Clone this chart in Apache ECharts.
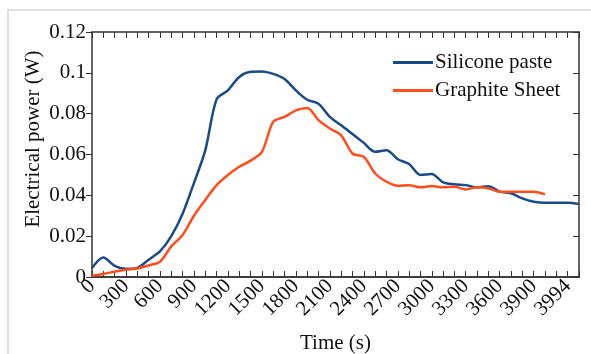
<!DOCTYPE html>
<html>
<head>
<meta charset="utf-8">
<script src="https://cdn.jsdelivr.net/npm/echarts@6/dist/echarts.min.js"></script>
<style>
  html, body { margin: 0; padding: 0; background: #fff; }
  #chart { width: 591px; height: 354px; }
</style>
</head>
<body>
<div id="chart"></div>
<script>
  // x categories (s); only every third one gets a label
  const timeLabels = [
    '0', '100', '200', '300', '400', '500', '600', '700', '800', '900',
    '1000', '1100', '1200', '1300', '1400', '1500', '1600', '1700', '1800', '1900',
    '2000', '2100', '2200', '2300', '2400', '2500', '2600', '2700', '2800', '2900',
    '3000', '3100', '3200', '3300', '3400', '3500', '3600', '3700', '3800', '3900',
    '3931', '3962', '3994', '4025'
  ];
  const yTicks = [0, 0.02, 0.04, 0.06, 0.08, 0.1, 0.12];

  const siliconePaste = [
    0.0044, 0.0095, 0.0055, 0.0040, 0.0045, 0.0085, 0.0125, 0.0200, 0.0310, 0.0460,
    0.0620, 0.0870, 0.0914, 0.0980, 0.1005, 0.1007, 0.0995, 0.0970, 0.0914, 0.0868,
    0.0849, 0.0784, 0.0743, 0.0700, 0.0657, 0.0613, 0.0621, 0.0577, 0.0553, 0.0500,
    0.0504, 0.0463, 0.0454, 0.0450, 0.0439, 0.0445, 0.0418, 0.0410, 0.0385, 0.0369,
    0.0364, 0.0364, 0.0364, 0.0358
  ];
  const graphiteSheet = [
    0.0007, 0.0015, 0.0026, 0.0036, 0.0042, 0.0057, 0.0075, 0.0150, 0.0206, 0.0300,
    0.0377, 0.0450, 0.0500, 0.0540, 0.0570, 0.0613, 0.0760, 0.0784, 0.0816, 0.0828,
    0.0768, 0.0727, 0.0694, 0.0605, 0.0589, 0.0507, 0.0467, 0.0447, 0.0450, 0.0439,
    0.0446, 0.0439, 0.0442, 0.0429, 0.0439, 0.0434, 0.0418, 0.0418, 0.0418, 0.0418,
    0.0405
  ];

  const font = 'Liberation Serif';
  const axisColor = '#333';
  const txt = '#111';

  function axisLine() {
    return { show: true, onZero: false, lineStyle: { color: axisColor, width: 1.5 } };
  }
  // plain category axis used only for the inward tick marks
  function tickAxis(position) {
    return {
      type: 'category',
      data: timeLabels,
      boundaryGap: false,
      position: position,
      axisLine: axisLine(),
      axisTick: { show: true, inside: true, interval: 0, length: 6, lineStyle: { color: axisColor } },
      axisLabel: { show: false },
      splitLine: { show: false }
    };
  }

  const chart = echarts.init(document.getElementById('chart'));
  chart.setOption({
    animation: false,
    textStyle: { fontFamily: font, color: txt },
    graphic: [{
      type: 'rect',
      shape: { x: 8, y: 10, width: 620, height: 380 },
      style: { fill: 'none', stroke: '#d6d6d6', lineWidth: 1.5 },
      silent: true
    }, {
      // y axis title, placed like the original (a bit above the plot middle)
      type: 'text',
      x: 33,
      y: 139,
      rotation: Math.PI / 2,
      style: {
        text: 'Electrical power (W)',
        font: '21px "Liberation Serif"',
        fill: txt,
        align: 'center',
        verticalAlign: 'middle'
      },
      silent: true
    }],
    grid: { left: 92, right: 12, top: 32, bottom: 77, outerBoundsMode: 'none' },
    legend: {
      orient: 'vertical',
      left: 388,
      top: 47,
      itemWidth: 40,
      itemHeight: 3,
      itemGap: 7,
      icon: 'rect',
      textStyle: { fontFamily: font, fontSize: 21, color: txt, padding: [0, 0, 0, -3] },
      data: ['Silicone paste', 'Graphite Sheet']
    },
    xAxis: [{
      type: 'category',
      data: timeLabels,
      boundaryGap: false,
      position: 'bottom',
      name: 'Time (s)',
      nameLocation: 'middle',
      nameGap: 56,
      nameTextStyle: { fontFamily: font, fontSize: 21, color: txt },
      axisLine: axisLine(),
      axisTick: { show: false },
      axisLabel: {
        interval: 2,
        rotate: 45,
        margin: 6,
        fontFamily: font,
        fontSize: 21,
        color: txt
      },
      splitLine: { show: false }
    }, tickAxis('top'), tickAxis('bottom')],
    yAxis: [{
      type: 'value',
      min: yTicks[0],
      max: yTicks[yTicks.length - 1],
      interval: 0.02,
      position: 'left',
      axisLine: axisLine(),
      axisTick: { show: true, length: 6, lineStyle: { color: axisColor } },
      axisLabel: { margin: 6, fontFamily: font, fontSize: 21, color: txt },
      splitLine: { show: false }
    }, {
      type: 'value',
      position: 'right',
      min: yTicks[0],
      max: yTicks[yTicks.length - 1],
      interval: 0.02,
      axisLine: axisLine(),
      axisTick: { show: true, inside: true, length: 6, lineStyle: { color: axisColor } },
      axisLabel: { show: false },
      splitLine: { show: false }
    }],
    series: [{
      name: 'Silicone paste',
      type: 'line',
      data: siliconePaste,
      smooth: 0.3,
      showSymbol: false,
      color: '#1b4a8a',
      lineStyle: { width: 2.5 }
    }, {
      name: 'Graphite Sheet',
      type: 'line',
      data: graphiteSheet,
      smooth: 0.3,
      showSymbol: false,
      color: '#ff4d1c',
      lineStyle: { width: 2.5 }
    }]
  });
</script>
</body>
</html>
